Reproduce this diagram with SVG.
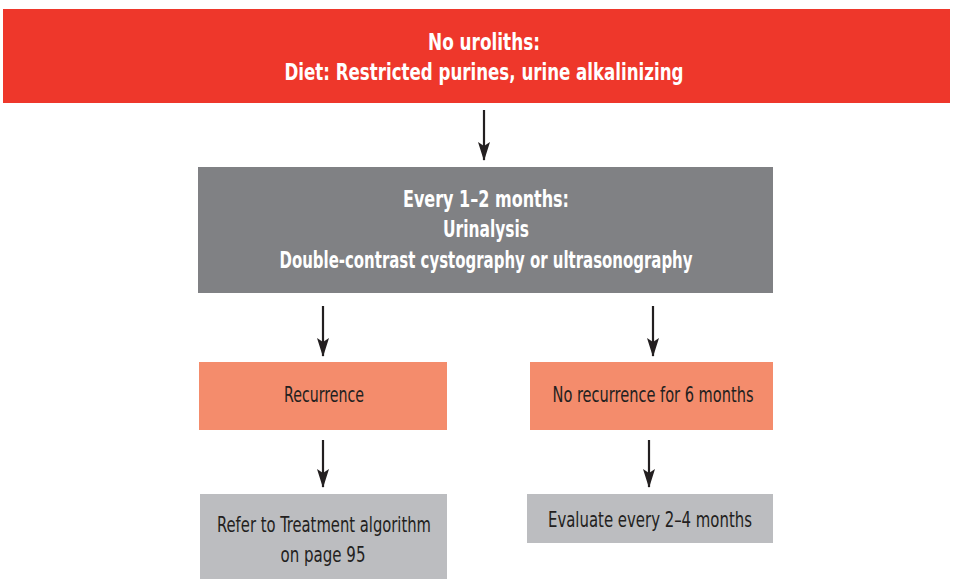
<svg xmlns="http://www.w3.org/2000/svg" width="953" height="579" viewBox="0 0 953 579">
<style>
.t{font-family:"DejaVu Sans Condensed","DejaVu Sans",sans-serif;font-weight:bold;text-anchor:middle}
.w{fill:#ffffff;font-size:23px}
.d{fill:#231f20;font-size:21px;font-weight:normal}
.ln{stroke:#231f20;stroke-width:2.2;fill:none}
</style>
<defs>
<marker id="ah" markerWidth="19" markerHeight="13" refX="18" refY="6.5" orient="auto" markerUnits="userSpaceOnUse" viewBox="0 0 19 13">
<path d="M0,0.5 L19,6.5 L0,12.5 L4,6.5 Z" fill="#231f20"/>
</marker>
</defs>
<rect width="953" height="579" fill="#ffffff"/>
<g id="n1">
<rect x="3" y="9" width="947" height="94" fill="#ee372b"/>
<text class="t w" x="484" y="50" textLength="112" lengthAdjust="spacingAndGlyphs">No uroliths:</text>
<text class="t w" x="484" y="80" textLength="399" lengthAdjust="spacingAndGlyphs">Diet: Restricted purines, urine alkalinizing</text>
</g>
<g id="n2">
<rect x="198" y="167" width="575" height="126" fill="#808184"/>
<text class="t w" x="486" y="207" textLength="166" lengthAdjust="spacingAndGlyphs">Every 1–2 months:</text>
<text class="t w" x="486" y="237" textLength="86" lengthAdjust="spacingAndGlyphs">Urinalysis</text>
<text class="t w" x="486" y="268" textLength="413" lengthAdjust="spacingAndGlyphs">Double-contrast cystography or ultrasonography</text>
</g>
<g id="n3">
<rect x="199" y="362" width="248" height="68" fill="#f48c6c"/>
<text class="t d" x="324" y="402" textLength="80" lengthAdjust="spacingAndGlyphs">Recurrence</text>
</g>
<g id="n4">
<rect x="530" y="362" width="243" height="68" fill="#f48c6c"/>
<text class="t d" x="653" y="402" textLength="201" lengthAdjust="spacingAndGlyphs">No recurrence for 6 months</text>
</g>
<g id="n5">
<rect x="200" y="494" width="247" height="85" fill="#bcbdc0"/>
<text class="t d" x="324" y="532" textLength="214" lengthAdjust="spacingAndGlyphs">Refer to Treatment algorithm</text>
<text class="t d" x="323" y="562" textLength="85" lengthAdjust="spacingAndGlyphs">on page 95</text>
</g>
<g id="n6">
<rect x="527" y="494" width="246" height="49" fill="#bcbdc0"/>
<text class="t d" x="650" y="527" textLength="204" lengthAdjust="spacingAndGlyphs">Evaluate every 2–4 months</text>
</g>
<g id="connectors">
<line class="ln" x1="484" y1="110" x2="484" y2="160" marker-end="url(#ah)"/>
<line class="ln" x1="323" y1="306" x2="323" y2="356" marker-end="url(#ah)"/>
<line class="ln" x1="653" y1="306" x2="653" y2="356" marker-end="url(#ah)"/>
<line class="ln" x1="323" y1="440" x2="323" y2="487" marker-end="url(#ah)"/>
<line class="ln" x1="649" y1="440" x2="649" y2="487" marker-end="url(#ah)"/>
</g>
</svg>
